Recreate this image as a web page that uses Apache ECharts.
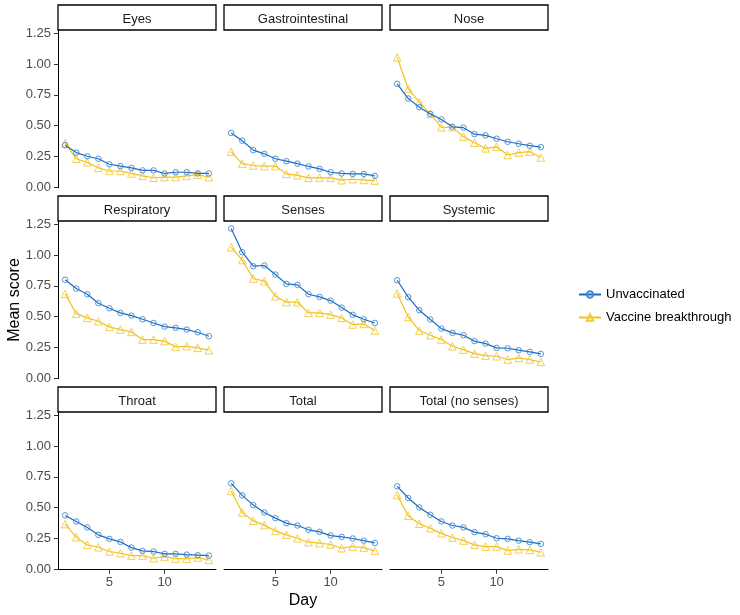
<!DOCTYPE html>
<html><head><meta charset="utf-8">
<script src="https://cdn.jsdelivr.net/npm/echarts@6/dist/echarts.min.js"></script>
<style>html,body{margin:0;padding:0;background:#fff}#c{width:740px;height:615px}</style>
</head><body><div id="c"></div>
<script>
const days = [1,2,3,4,5,6,7,8,9,10,11,12,13,14];
const panels = ['Eyes','Gastrointestinal','Nose','Respiratory','Senses','Systemic','Throat','Total','Total (no senses)'];
const seriesNames = ['Unvaccinated','Vaccine breakthrough'];
const yTicks = [0,0.25,0.5,0.75,1,1.25];
const xTicks = [5,10];

const eyesU = [0.34,0.28,0.25,0.23,0.185,0.17,0.155,0.135,0.135,0.11,0.12,0.12,0.11,0.11];
const eyesV = [0.355,0.23,0.2,0.155,0.13,0.13,0.11,0.09,0.075,0.08,0.08,0.09,0.1,0.08];
const giU = [0.44,0.377,0.30,0.27,0.23,0.21,0.19,0.167,0.147,0.12,0.11,0.106,0.106,0.09];
const giV = [0.287,0.19,0.175,0.17,0.17,0.106,0.095,0.074,0.074,0.074,0.055,0.063,0.057,0.052];
const noseU = [0.84,0.72,0.65,0.595,0.55,0.49,0.483,0.43,0.42,0.393,0.368,0.352,0.336,0.325];
const noseV = [1.055,0.80,0.69,0.595,0.486,0.486,0.41,0.36,0.314,0.327,0.26,0.28,0.287,0.24];
const respU = [0.80,0.728,0.682,0.609,0.568,0.53,0.508,0.478,0.448,0.418,0.408,0.394,0.372,0.34];
const respV = [0.685,0.524,0.489,0.462,0.416,0.394,0.375,0.3125,0.3125,0.30,0.253,0.258,0.245,0.226];
const sensesU = [1.217,1.024,0.91,0.916,0.842,0.766,0.758,0.682,0.66,0.63,0.573,0.514,0.478,0.448];
const sensesV = [1.065,0.96,0.81,0.788,0.666,0.617,0.617,0.53,0.53,0.516,0.489,0.435,0.44,0.386];
const sysU = [0.796,0.658,0.552,0.476,0.402,0.367,0.348,0.30,0.28,0.245,0.242,0.226,0.212,0.196];
const sysV = [0.688,0.497,0.386,0.348,0.3125,0.258,0.231,0.198,0.182,0.177,0.15,0.163,0.15,0.13];
const throatU = [0.436,0.387,0.338,0.278,0.245,0.22,0.174,0.147,0.142,0.123,0.123,0.117,0.112,0.109];
const throatV = [0.365,0.259,0.196,0.177,0.142,0.128,0.109,0.109,0.087,0.10,0.084,0.084,0.093,0.074];
const totalU = [0.697,0.599,0.52,0.46,0.414,0.373,0.354,0.319,0.302,0.272,0.261,0.248,0.231,0.212];
const totalV = [0.635,0.46,0.392,0.357,0.31,0.278,0.25,0.218,0.21,0.199,0.169,0.183,0.174,0.147];
const tnsU = [0.673,0.578,0.501,0.441,0.387,0.354,0.338,0.30,0.283,0.25,0.245,0.231,0.218,0.204];
const tnsV = [0.602,0.433,0.368,0.332,0.29,0.256,0.231,0.196,0.182,0.182,0.15,0.16,0.155,0.136];

const unvax = [eyesU,giU,noseU,respU,sensesU,sysU,throatU,totalU,tnsU];
const vax = [eyesV,giV,noseV,respV,sensesV,sysV,throatV,totalV,tnsV];

const FONT = "'Liberation Sans', Arial, sans-serif";
const BLUE_LINE = '#1a6bbf', BLUE_PT = '#3f88d4';
const YEL_LINE = '#f1c21b', YEL_PT = '#f3c93a';
const colLeft = [58,224,390], colW = 158;
const stripTop = [5,196,387], stripH = 25;
const panelH = 157.3;

const grids=[], xAxes=[], yAxes=[], series=[], graphics=[];
panels.forEach((name,i)=>{
  const r = Math.floor(i/3), c = i%3;
  const top = stripTop[r] + stripH + 0.4;
  grids.push({left:colLeft[c], top:top, width:colW, height:panelH});
  const bottomRow = r===2, leftCol = c===0;
  xAxes.push({type:'value', gridIndex:i, min:0.35, max:14.65,
    axisLine:{show:bottomRow, onZero:false, lineStyle:{color:'#000',width:1}},
    axisTick:{show:bottomRow, length:4, customValues:xTicks, lineStyle:{color:'#333'}},
    axisLabel:{show:bottomRow, customValues:xTicks, color:'#4d4d4d', fontSize:13, fontFamily:FONT, margin:6},
    splitLine:{show:false}});
  yAxes.push({type:'value', gridIndex:i, min:-0.006, max:1.275,
    axisLine:{show:leftCol, onZero:false, lineStyle:{color:'#000',width:1}},
    axisTick:{show:leftCol, length:4, customValues:yTicks, lineStyle:{color:'#333'}},
    axisLabel:{show:leftCol, customValues:yTicks, color:'#4d4d4d', fontSize:13, fontFamily:FONT, margin:7,
      formatter:v=>v.toFixed(2)},
    splitLine:{show:false}});
  series.push({name:seriesNames[0], type:'line', xAxisIndex:i, yAxisIndex:i,
    data:days.map((d,k)=>[d,unvax[i][k]]), symbol:'circle', symbolSize:5.5,
    lineStyle:{color:BLUE_LINE,width:1.2},
    itemStyle:{color:'rgba(0,0,0,0)', borderColor:BLUE_PT, borderWidth:0.9}, z:3});
  series.push({name:seriesNames[1], type:'line', xAxisIndex:i, yAxisIndex:i,
    data:days.map((d,k)=>[d,vax[i][k]]), symbol:'triangle', symbolSize:7.5,
    lineStyle:{color:YEL_LINE,width:1.2},
    itemStyle:{color:'rgba(0,0,0,0)', borderColor:YEL_PT, borderWidth:0.9}, z:2});
  graphics.push({type:'rect', shape:{x:colLeft[c], y:stripTop[r], width:colW, height:stripH},
    style:{fill:'#fff', stroke:'#000', lineWidth:1.3}});
  graphics.push({type:'text', x:colLeft[c]+colW/2, y:stripTop[r]+stripH/2+1.5,
    style:{text:name, fill:'#1a1a1a', font:'13px '+FONT, align:'center', verticalAlign:'middle'}});
});
graphics.push({type:'text', x:303, y:601, style:{text:'Day', fill:'#000', font:'16px '+FONT, align:'center', verticalAlign:'middle'}});
graphics.push({type:'text', x:15, y:300, rotation:Math.PI/2, style:{text:'Mean score', fill:'#000', font:'16px '+FONT, align:'center', verticalAlign:'middle'}});

const chart = echarts.init(document.getElementById('c'), null, {renderer:'canvas'});
chart.setOption({
  animation:false,
  color:[BLUE_LINE, YEL_LINE],
  grid:grids, xAxis:xAxes, yAxis:yAxes, series:series, graphic:graphics,
  legend:{data:seriesNames, orient:'vertical', left:573, top:283, itemWidth:22, itemHeight:8, itemGap:10,
    textStyle:{fontSize:13, fontFamily:FONT, color:'#000'}}
});
</script></body></html>
